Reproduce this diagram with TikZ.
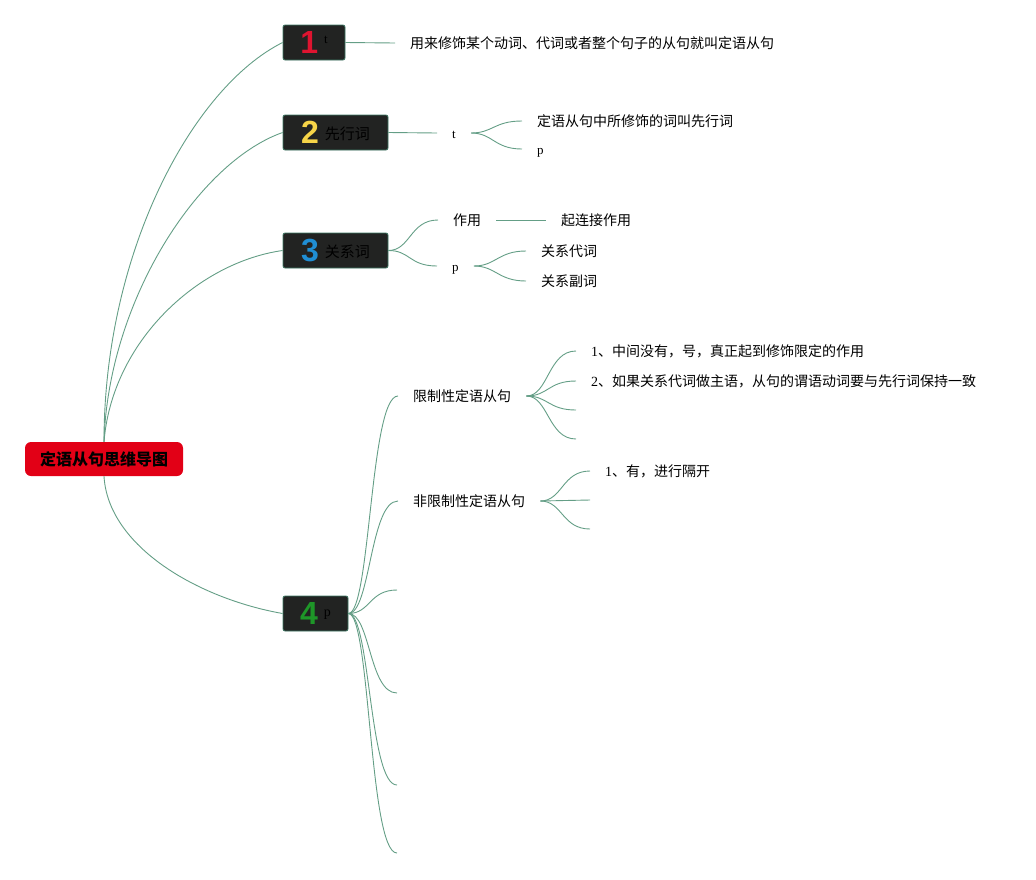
\documentclass[tikz,border=0pt]{standalone}
\usepackage{fontspec}
\setmainfont{Liberation Serif}
\newfontfamily\cjk{Noto Sans CJK SC}
\newfontfamily\numfont{Liberation Sans}
\usepackage{tikz}
\usetikzlibrary{positioning}
\usepackage{xcolor}

\definecolor{raizvermelho}{RGB}{226,0,22}
\definecolor{caixafundo}{RGB}{34,35,34}
\definecolor{caixaborda}{RGB}{62,120,100}
\definecolor{linha}{RGB}{100,158,134}
\definecolor{num1}{RGB}{222,20,48}
\definecolor{num2}{RGB}{246,212,72}
\definecolor{num3}{RGB}{32,142,212}
\definecolor{num4}{RGB}{30,150,40}

\newcommand{\numdig}[2]{{\numfont\bfseries\fontsize{32}{32}\selectfont\color{#1}#2}}

\begin{document}
\begin{tikzpicture}[x=1pt, y=-1pt,
    ramo/.style={draw=linha, line width=0.9pt},
    caixa/.style={rectangle, rounded corners=2pt, fill=caixafundo, draw=caixaborda,
        line width=0.8pt, minimum height=35pt, inner sep=0pt},
    folha/.style={anchor=west, inner xsep=15pt, inner ysep=0pt, text height=12pt,
        text depth=2pt, font=\cjk\fontsize{14}{16}\selectfont},
    letra/.style={folha, font=\rmfamily\fontsize{13}{15}\selectfont}]

    % Area do desenho
    \useasboundingbox (0,0) rectangle (1036,879);

    % Ponto central
    \node[rectangle, rounded corners=6pt, fill=raizvermelho, minimum width=158pt,
        minimum height=34pt, font=\cjk\bfseries\fontsize{16}{18}\selectfont] (raiz) at (104,459) {定语从句思维导图};

    % Caixas numeradas
    \node[caixa, minimum width=62pt] (n1) at (314,42.5)
        {\numdig{num1}{1}\hspace{6pt}\raisebox{10pt}{\fontsize{13}{13}\selectfont t}};
    \node[caixa, minimum width=105pt] (n2) at (335.5,132.5)
        {\numdig{num2}{2}\hspace{6pt}\raisebox{4pt}{\cjk\fontsize{15}{15}\selectfont\color{black}先行词}};
    \node[caixa, minimum width=105pt] (n3) at (335.5,250.5)
        {\numdig{num3}{3}\hspace{6pt}\raisebox{4pt}{\cjk\fontsize{15}{15}\selectfont\color{black}关系词}};
    \node[caixa, minimum width=65pt] (n4) at (315.5,613.5)
        {\numdig{num4}{4}\hspace{6pt}\raisebox{8pt}{\fontsize{14}{14}\selectfont p}};

    % Ligacoes da raiz
    \draw[ramo] (raiz.north) .. controls +(0,-190) and +(-90,45) .. (n1.west);
    \draw[ramo] (raiz.north) .. controls +(4,-140) and +(-85,30) .. (n2.west);
    \draw[ramo] (raiz.north) .. controls +(8,-100) and +(-85,12) .. (n3.west);
    \draw[ramo] (raiz.south) .. controls +(4,70) and +(-85,-15) .. (n4.west);

    % Ramo 1
    \node[folha] (f1) at (395,43) {用来修饰某个动词、代词或者整个句子的从句就叫定语从句};
    \draw[ramo] (n1.east) -- (f1.west);

    % Ramo 2
    \node[letra] (t2) at (437,133) {t};
    \node[folha] (f2) at (522,121) {定语从句中所修饰的词叫先行词};
    \node[letra] (p2) at (522,149) {p};
    \draw[ramo] (n2.east) -- (t2.west);
    \draw[ramo] (t2.east) .. controls +(22,0) and +(-28,0) .. (f2.west);
    \draw[ramo] (t2.east) .. controls +(22,0) and +(-28,0) .. (p2.west);

    % Ramo 3
    \node[folha] (zy) at (438,220) {作用};
    \node[folha] (lj) at (546,220) {起连接作用};
    \node[letra] (p3) at (437,266) {p};
    \node[folha] (gd) at (526,251) {关系代词};
    \node[folha] (gf) at (526,281) {关系副词};
    \draw[ramo] (n3.east) .. controls +(22,0) and +(-28,0) .. (zy.west);
    \draw[ramo] (n3.east) .. controls +(22,0) and +(-28,0) .. (p3.west);
    \draw[ramo] (zy.east) -- (lj.west);
    \draw[ramo] (p3.east) .. controls +(22,0) and +(-28,0) .. (gd.west);
    \draw[ramo] (p3.east) .. controls +(22,0) and +(-28,0) .. (gf.west);

    % Ramo 4
    \node[folha] (xz) at (398,396) {限制性定语从句};
    \node[folha] (fx) at (398,501) {非限制性定语从句};
    \coordinate (v1) at (397,590);
    \coordinate (v2) at (397,693);
    \coordinate (v3) at (397,785);
    \coordinate (v4) at (397,853);
    \draw[ramo] (n4.east) .. controls +(22,0) and +(-28,0) .. (xz.west);
    \draw[ramo] (n4.east) .. controls +(22,0) and +(-28,0) .. (fx.west);
    \draw[ramo] (n4.east) .. controls +(22,0) and +(-28,0) .. (v1);
    \draw[ramo] (n4.east) .. controls +(22,0) and +(-28,0) .. (v2);
    \draw[ramo] (n4.east) .. controls +(22,0) and +(-28,0) .. (v3);
    \draw[ramo] (n4.east) .. controls +(22,0) and +(-28,0) .. (v4);

    % Restritiva
    \node[folha] (a1) at (576,351) {\textrm{1}、中间没有，号，真正起到修饰限定的作用};
    \node[folha] (a2) at (576,381) {\textrm{2}、如果关系代词做主语，从句的谓语动词要与先行词保持一致};
    \coordinate (a3) at (576,410);
    \coordinate (a4) at (576,439);
    \draw[ramo] (xz.east) .. controls +(22,0) and +(-28,0) .. (a1.west);
    \draw[ramo] (xz.east) .. controls +(22,0) and +(-28,0) .. (a2.west);
    \draw[ramo] (xz.east) .. controls +(22,0) and +(-28,0) .. (a3);
    \draw[ramo] (xz.east) .. controls +(22,0) and +(-28,0) .. (a4);

    % Nao restritiva
    \node[folha] (b1) at (590,471) {\textrm{1}、有，进行隔开};
    \coordinate (b2) at (590,500);
    \coordinate (b3) at (590,529);
    \draw[ramo] (fx.east) .. controls +(22,0) and +(-28,0) .. (b1.west);
    \draw[ramo] (fx.east) -- (b2);
    \draw[ramo] (fx.east) .. controls +(22,0) and +(-28,0) .. (b3);

\end{tikzpicture}
\end{document}
